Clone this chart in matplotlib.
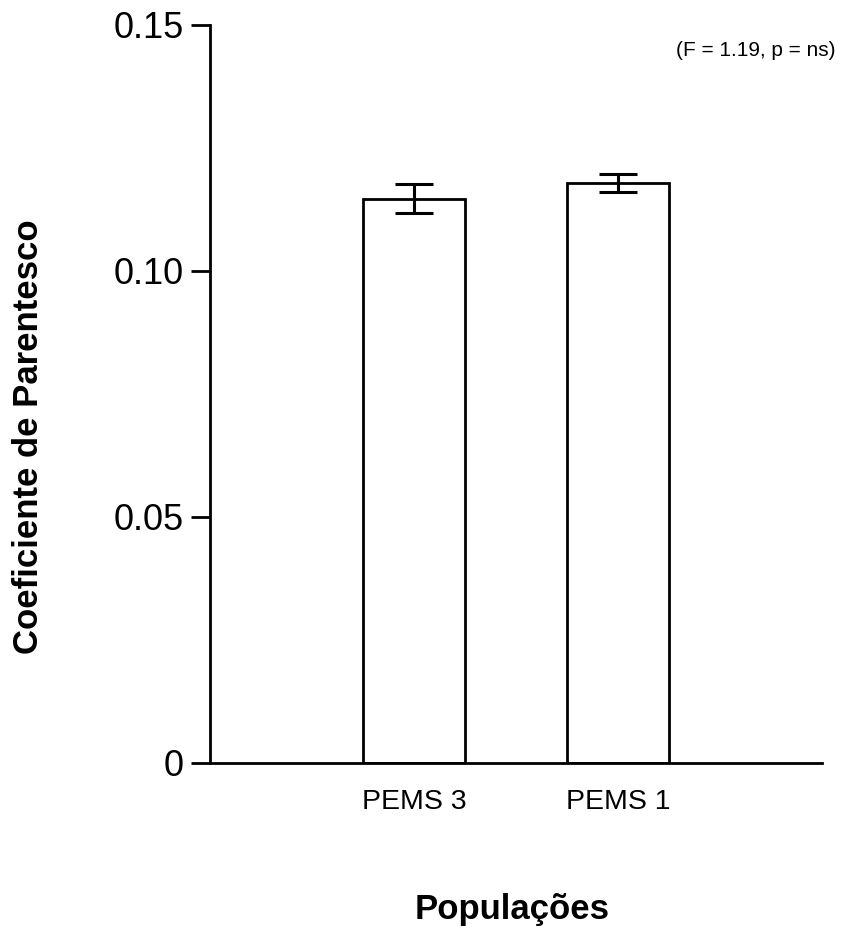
import matplotlib
matplotlib.use("Agg")
import matplotlib.pyplot as plt

categories = ["PEMS 3", "PEMS 1"]
means = [0.1147, 0.1178]
errors = [0.0029, 0.0018]
yticks = [0, 0.05, 0.10, 0.15]
yticklabels = ["0", "0.05", "0.10", "0.15"]

plt.rcParams['font.family'] = ['Liberation Sans', 'DejaVu Sans']

fig = plt.figure(figsize=(8.42, 9.31), dpi=100)
ax = fig.add_axes([210/842, 1-762.5/931, 612/842, (762.5-25)/931])

pos = [1, 2]
ax.bar(pos, means, width=0.5, color='white', edgecolor='black', linewidth=2.0, zorder=2)
ax.errorbar(pos, means, yerr=errors, fmt='none', ecolor='black', elinewidth=2.2,
            capsize=14, capthick=2.2, zorder=3)

ax.set_xlim(0, 3)
ax.set_ylim(0, 0.15)
ax.set_yticks(yticks)
ax.set_yticklabels(yticklabels, fontsize=26)
ax.set_xticks(pos)
ax.set_xticklabels(categories, fontsize=20.5)
ax.tick_params(axis='x', length=0, pad=19)
ax.tick_params(axis='y', length=14, width=2, pad=5)

for s in ['top', 'right']:
    ax.spines[s].set_visible(False)
for s in ['left', 'bottom']:
    ax.spines[s].set_linewidth(2)

fig.text(29/842, 1-437/931, "Coeficiente de Parentesco", fontsize=25, fontweight='bold',
         rotation=90, ha='center', va='center')
fig.text(512/842, 1-910/931, "Populações", fontsize=25, fontweight='bold',
         ha='center', va='center')

fig.text(836/842, 1-50/931, "(F = 1.19, p = ns)",
         ha='right', va='center', fontsize=15)

fig.savefig("out.png", dpi=100)
